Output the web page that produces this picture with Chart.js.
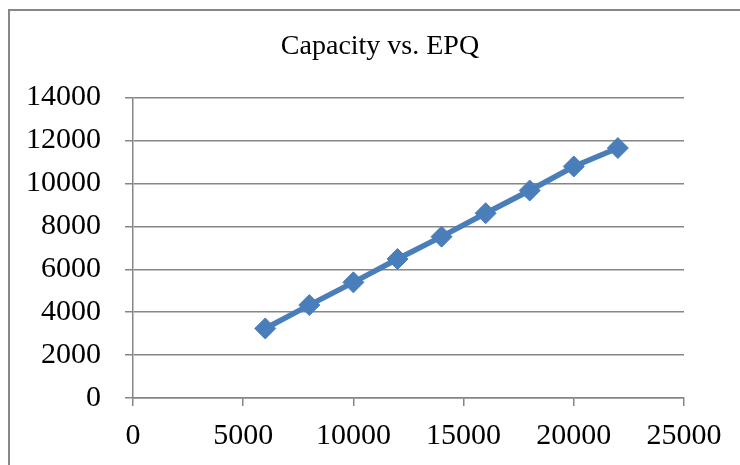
<!DOCTYPE html>
<html>
<head>
<meta charset="utf-8">
<title>Capacity vs. EPQ</title>
<script src="https://cdn.jsdelivr.net/npm/chart.js@4"></script>
<style>
  html, body { margin: 0; padding: 0; background: #fff; }
  #wrap { position: relative; width: 740px; height: 465px; }
  #frame {
    position: absolute; left: 8px; top: 9px; right: -10px; bottom: -10px;
    border-left: 2px solid #878787; border-top: 2px solid #878787;
    pointer-events: none;
  }
</style>
</head>
<body>
<div id="wrap">
  <canvas id="chartCapacity" width="740" height="465"></canvas>
  <div id="frame"></div>
</div>
<script>
// Capacity vs. EPQ, Excel-style scatter with straight lines.
const capacity = [6000, 8000, 10000, 12000, 14000, 16000, 18000, 20000, 22000];
const epq = [3240, 4330, 5390, 6480, 7520, 8610, 9670, 10790, 11650];
const xTicks = [0, 5000, 10000, 15000, 20000, 25000];
const yTicks = [0, 2000, 4000, 6000, 8000, 10000, 12000, 14000];

const theme = {
  series: '#4A7EBB',
  axis: '#868686',
  text: '#000000',
  font: "'Liberation Serif', 'Times New Roman', serif",
};

const ctx = document.getElementById('chartCapacity').getContext('2d');
new Chart(ctx, {
  type: 'scatter',
  data: {
    datasets: [{
      label: 'EPQ',
      data: capacity.map((c, i) => ({ x: c, y: epq[i] })),
      showLine: true,
      tension: 0,
      borderColor: theme.series,
      backgroundColor: theme.series,
      borderWidth: 5.5,
      pointStyle: 'rectRot',
      pointRadius: 10.5,
      pointBorderWidth: 1,
      pointBackgroundColor: theme.series,
      pointBorderColor: theme.series,
    }],
  },
  options: {
    responsive: false,
    animation: false,
    // left padding keeps the title centred the way the original sits
    layout: { padding: { left: 20, right: 0, top: 0, bottom: 0 } },
    plugins: {
      legend: { display: false },
      tooltip: { enabled: false },
      title: {
        display: true,
        text: 'Capacity vs. EPQ',
        color: theme.text,
        font: { family: theme.font, size: 28, weight: 'normal', lineHeight: 1.2 },
        padding: { top: 30, bottom: 34 },
      },
    },
    scales: {
      x: {
        type: 'linear',
        min: xTicks[0],
        max: xTicks[xTicks.length - 1],
        afterFit: (s) => { s.height = 67; s.paddingRight = 56; },
        afterBuildTicks: (s) => { s.ticks = xTicks.map((v) => ({ value: v })); },
        border: { display: true, color: theme.axis, width: 1.5 },
        grid: { drawOnChartArea: false, drawTicks: true, tickLength: 8, tickColor: theme.axis, lineWidth: 1.5 },
        ticks: {
          color: theme.text,
          padding: 12,
          maxRotation: 0,
          font: { family: theme.font, size: 30 },
          callback: (v) => String(v),
        },
      },
      y: {
        type: 'linear',
        min: yTicks[0],
        max: yTicks[yTicks.length - 1],
        afterFit: (s) => { s.width = 113; },
        afterBuildTicks: (s) => { s.ticks = yTicks.map((v) => ({ value: v })); },
        border: { display: true, color: theme.axis, width: 1.5 },
        grid: { color: theme.axis, lineWidth: 1.5, drawTicks: true, tickLength: 8, tickColor: theme.axis },
        ticks: {
          color: theme.text,
          padding: 24,
          font: { family: theme.font, size: 30 },
          callback: (v) => String(v),
        },
      },
    },
  },
});
</script>
</body>
</html>
